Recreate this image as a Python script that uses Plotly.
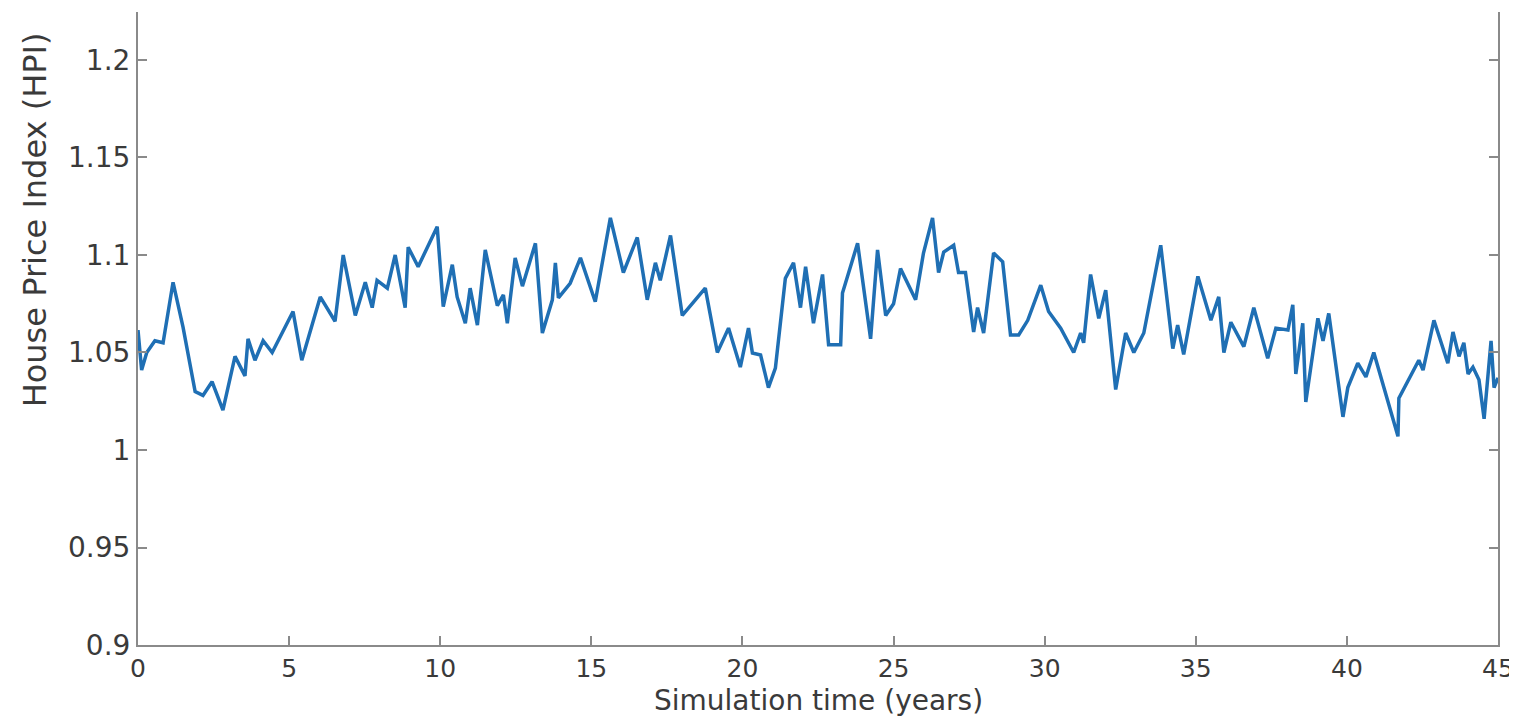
import plotly.graph_objects as go

# Simulation time (years) and House Price Index values
years = [0, 0.12, 0.29, 0.56, 0.83, 1.16, 1.49, 1.89, 2.15, 2.45, 2.81, 3.21, 3.54, 3.64, 3.87,
         4.14, 4.44, 4.77, 5.13, 5.42, 6.03, 6.52, 6.79, 7.19, 7.52, 7.75, 7.91, 8.25, 8.51,
         8.84, 8.94, 9.27, 9.90, 10.10, 10.40, 10.56, 10.83, 10.99, 11.23, 11.49, 11.89, 12.09,
         12.22, 12.48, 12.72, 13.15, 13.38, 13.71, 13.81, 13.91, 14.30, 14.64, 15.13, 15.63,
         16.06, 16.52, 16.85, 17.12, 17.28, 17.62, 18.01, 18.77, 19.17, 19.54, 19.93, 20.20,
         20.33, 20.60, 20.86, 21.09, 21.42, 21.69, 21.92, 22.09, 22.35, 22.65, 22.85, 23.25,
         23.31, 23.81, 24.24, 24.47, 24.74, 25.00, 25.23, 25.73, 25.99, 26.29, 26.49, 26.66,
         26.99, 27.15, 27.38, 27.65, 27.78, 27.98, 28.31, 28.61, 28.87, 29.14, 29.44, 29.87,
         30.13, 30.53, 30.96, 31.19, 31.29, 31.52, 31.79, 32.02, 32.35, 32.68, 32.95, 33.28,
         33.84, 34.24, 34.40, 34.60, 35.07, 35.50, 35.76, 35.93, 36.16, 36.59, 36.92, 37.38,
         37.65, 38.05, 38.21, 38.31, 38.54, 38.64, 39.04, 39.21, 39.40, 39.87, 40.03, 40.36,
         40.63, 40.89, 41.69, 41.72, 42.38, 42.52, 42.88, 43.34, 43.51, 43.71, 43.87, 44.01,
         44.17, 44.37, 44.54, 44.77, 44.87, 45.00]

hpi = [1.0615, 1.041, 1.050, 1.056, 1.055, 1.086, 1.063, 1.030, 1.028, 1.035, 1.0205, 1.048,
       1.038, 1.057, 1.046, 1.056, 1.050, 1.060, 1.071, 1.046, 1.0785, 1.066, 1.100, 1.069,
       1.086, 1.073, 1.087, 1.083, 1.100, 1.073, 1.104, 1.094, 1.1145, 1.0735, 1.095, 1.0785,
       1.065, 1.083, 1.064, 1.1026, 1.074, 1.0795, 1.065, 1.0985, 1.084, 1.106, 1.060, 1.077,
       1.096, 1.078, 1.0855, 1.0985, 1.076, 1.119, 1.091, 1.109, 1.077, 1.096, 1.087, 1.110,
       1.069, 1.083, 1.050, 1.0625, 1.0425, 1.0625, 1.0497, 1.0487, 1.032, 1.042, 1.088,
       1.096, 1.073, 1.094, 1.065, 1.090, 1.054, 1.054, 1.0805, 1.106, 1.057, 1.1026, 1.069,
       1.075, 1.093, 1.077, 1.101, 1.119, 1.091, 1.1015, 1.105, 1.091, 1.091, 1.0605, 1.073,
       1.060, 1.101, 1.0965, 1.059, 1.059, 1.0665, 1.0845, 1.071, 1.0625, 1.050, 1.060, 1.055,
       1.090, 1.0675, 1.082, 1.031, 1.060, 1.050, 1.060, 1.105, 1.052, 1.064, 1.049, 1.089,
       1.0665, 1.0785, 1.050, 1.0655, 1.053, 1.073, 1.047, 1.0625, 1.0615, 1.0745, 1.039,
       1.065, 1.0246, 1.0675, 1.056, 1.070, 1.017, 1.032, 1.0445, 1.0375, 1.050, 1.007,
       1.0265, 1.046, 1.041, 1.0665, 1.0445, 1.0605, 1.048, 1.055, 1.039, 1.0425, 1.036,
       1.016, 1.056, 1.032, 1.037]

x_ticks = [0, 5, 10, 15, 20, 25, 30, 35, 40, 45]
y_ticks = [0.9, 0.95, 1.0, 1.05, 1.1, 1.15, 1.2]
y_tick_text = ["0.9", "0.95", "1", "1.05", "1.1", "1.15", "1.2"]
y_range = [0.9, 1.2246]

axis_col = "#8a8a8a"
text_col = "#3a3a3a"
font_family = "DejaVu Sans, Liberation Sans, Arial, sans-serif"

fig = go.Figure()
fig.add_trace(go.Scatter(x=years, y=hpi, mode="lines",
                         line=dict(color="#1f6fb4", width=3.5), showlegend=False,
                         hoverinfo="x+y"))
# invisible trace to anchor the right-hand axis
fig.add_trace(go.Scatter(x=[years[0]], y=[hpi[0]], yaxis="y2", mode="markers",
                         marker=dict(opacity=0), showlegend=False, hoverinfo="skip"))

fig.update_layout(
    width=1509, height=720,
    margin=dict(l=130, r=19, t=4, b=83),
    paper_bgcolor="white", plot_bgcolor="white",
    font=dict(family=font_family, color=text_col),
    xaxis=dict(range=[0, 45], tickvals=x_ticks, ticks="inside", ticklen=9, tickwidth=2,
               tickcolor=axis_col, showline=True, linecolor=axis_col, linewidth=2,
               showgrid=False, zeroline=False, tickfont=dict(size=25, color=text_col)),
    yaxis=dict(range=y_range, tickvals=y_ticks, ticktext=y_tick_text, ticks="inside",
               ticklen=9, tickwidth=2, tickcolor=axis_col, showline=True,
               linecolor=axis_col, linewidth=2, showgrid=False, zeroline=False,
               tickfont=dict(size=28, color=text_col)),
    yaxis2=dict(range=y_range, overlaying="y", side="right", tickvals=y_ticks,
                ticks="inside", ticklen=9, tickwidth=2, tickcolor=axis_col,
                showline=True, linecolor=axis_col, linewidth=2, showgrid=False,
                zeroline=False, showticklabels=False),
    annotations=[
        dict(text="Simulation time (years)", xref="paper", yref="paper", x=0.5, y=-0.087,
             xanchor="center", yanchor="middle", showarrow=False,
             font=dict(size=28, color=text_col, family=font_family)),
        dict(text="House Price Index (HPI)", xref="paper", yref="paper", x=-0.0757, y=0.671,
             xanchor="center", yanchor="middle", showarrow=False, textangle=-90,
             font=dict(size=32, color=text_col, family=font_family)),
    ],
)

fig.write_html("out.html")
